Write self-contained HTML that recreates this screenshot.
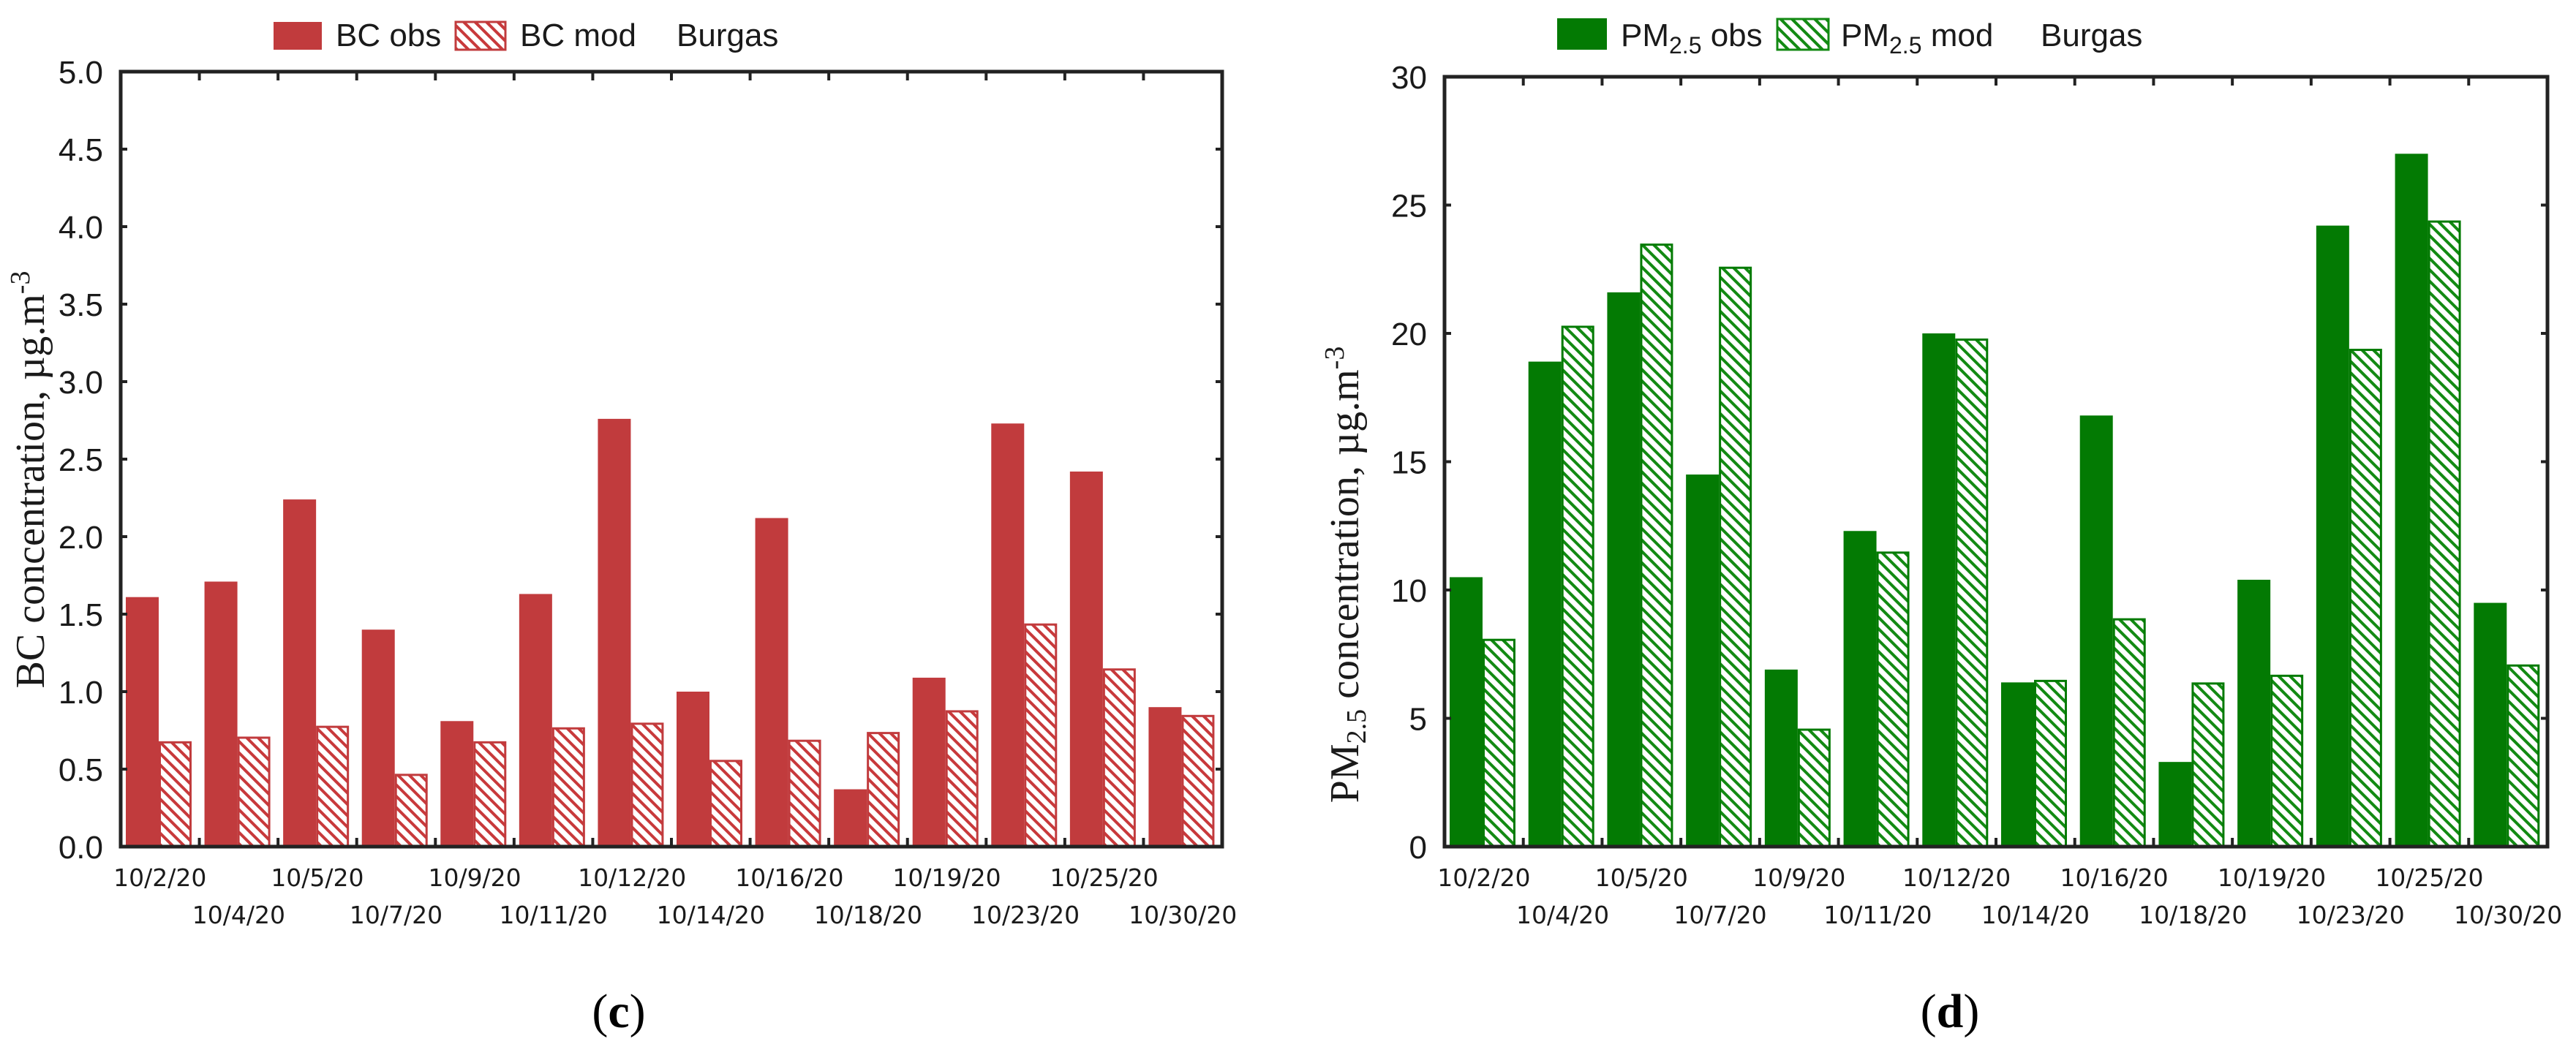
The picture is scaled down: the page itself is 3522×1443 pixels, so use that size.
<!DOCTYPE html>
<html><head><meta charset="utf-8"><style>
html,body{margin:0;padding:0;background:#fff;width:3522px;height:1443px;overflow:hidden}
svg{display:block}
.tick{font-family:"Liberation Sans",sans-serif;font-size:44px;fill:#1a1a1a}
.xl{font-family:"DejaVu Sans","Liberation Sans",sans-serif;font-size:33px;fill:#1a1a1a}
.leg{font-family:"Liberation Sans",sans-serif;font-size:44px;fill:#1a1a1a}
.ttl{font-family:"Liberation Serif",serif;font-size:56px;fill:#1a1a1a}
.cap{font-family:"Liberation Serif",serif;font-size:66px;fill:#000}
</style></head><body>
<svg id="s" width="3522" height="1443" viewBox="0 0 3522 1443" xmlns="http://www.w3.org/2000/svg">
<defs>
<pattern id="hr" patternUnits="userSpaceOnUse" width="11" height="11" patternTransform="rotate(45)"><rect width="11" height="11" fill="#fff"/><rect width="11" height="4" fill="#c8393b"/></pattern>
<pattern id="hg" patternUnits="userSpaceOnUse" width="11" height="11" patternTransform="rotate(45)"><rect width="11" height="11" fill="#fff"/><rect width="11" height="4" fill="#138a13"/></pattern>
</defs>
<g id="left"></g>
<g id="right"></g>
<text class="cap" x="846" y="1405" text-anchor="middle">(<tspan font-weight="bold">c</tspan>)</text>
<text class="cap" x="2666" y="1405" text-anchor="middle">(<tspan font-weight="bold">d</tspan>)</text>
</svg>
<script>
const dates = ["10/2/20","10/4/20","10/5/20","10/7/20","10/9/20","10/11/20","10/12/20","10/14/20","10/16/20","10/18/20","10/19/20","10/23/20","10/25/20","10/30/20"];
const bcObs = [1.61,1.71,2.24,1.40,0.81,1.63,2.76,1.00,2.12,0.37,1.09,2.73,2.42,0.90];
const bcMod = [0.68,0.71,0.78,0.47,0.68,0.77,0.80,0.56,0.69,0.74,0.88,1.44,1.15,0.85];
const pmObs = [10.5,18.9,21.6,14.5,6.9,12.3,20.0,6.4,16.8,3.3,10.4,24.2,27.0,9.5];
const pmMod = [8.1,20.3,23.5,22.6,4.6,11.5,19.8,6.5,8.9,6.4,6.7,19.4,24.4,7.1];
const bcTicks = ["0.0","0.5","1.0","1.5","2.0","2.5","3.0","3.5","4.0","4.5","5.0"];
const pmTicks = ["0","5","10","15","20","25","30"];
const NS="http://www.w3.org/2000/svg";
function mk(p,tag,a){const e=document.createElementNS(NS,tag);for(const k in a)e.setAttribute(k,a[k]);p.appendChild(e);return e;}
function chart(g,o){
  const L=o.L,R=o.R,T=o.T,B=o.B,n=dates.length,gw=(R-L)/n;
  const y=v=>B-(v/o.max)*(B-T);
  const x=i=>L+i*gw;
  for(let i=0;i<n;i++){
    const b1=mk(g,'rect',{x:x(i)+7,y:y(o.obs[i]),width:45,height:B-y(o.obs[i]),fill:o.col});
    
    
    const b2=mk(g,'rect',{x:x(i)+53.5,y:y(o.mod[i])+1.5,width:42,height:B-y(o.mod[i])-1.5,fill:o.pat,stroke:o.col,'stroke-width':3});
    
    
  }
  for(let i=1;i<n;i++){
    mk(g,'line',{x1:x(i),x2:x(i),y1:T,y2:T+12,stroke:'#222','stroke-width':4});
    mk(g,'line',{x1:x(i),x2:x(i),y1:B,y2:B-12,stroke:'#222','stroke-width':4});
  }
  o.ticks.forEach((t,k)=>{
    const v=parseFloat(t);
    mk(g,'line',{x1:L,x2:L+9,y1:y(v),y2:y(v),stroke:'#222','stroke-width':4});
    mk(g,'line',{x1:R,x2:R-9,y1:y(v),y2:y(v),stroke:'#222','stroke-width':4});
    const tx=mk(g,'text',{class:'tick',x:L-24,y:y(v)+16,'text-anchor':'end'});
    tx.textContent=t;
    
    
  });
  const box=mk(g,'rect',{x:L,y:T,width:R-L,height:B-T,fill:'none',stroke:'#222','stroke-width':5});
  
  
  dates.forEach((d,i)=>{
    const tx=mk(g,'text',{class:'xl',x:x(i)+gw/2,y:(i%2?1263:1212),'text-anchor':'middle'});
    tx.textContent=d;
    
    
  });
}
const gl=document.getElementById('left'),gr=document.getElementById('right');
chart(gl,{L:165,R:1671,T:98,B:1158,max:5,obs:bcObs,mod:bcMod,col:'#c13b3d',pat:'url(#hr)',ticks:bcTicks});
chart(gr,{L:1975,R:3483,T:105,B:1158,max:30,obs:pmObs,mod:pmMod,col:'#037a03',pat:'url(#hg)',ticks:pmTicks});
</script>
<script>
const s=document.getElementById('s');
s.insertAdjacentHTML('beforeend',`
<g>
<rect x="374" y="30" width="66" height="38" fill="#c13b3d"/>
<text class="leg" x="459" y="63">BC obs</text>
<rect x="623" y="30" width="68" height="38" fill="url(#hr)" stroke="#c13b3d" stroke-width="3"/>
<text class="leg" x="711" y="63">BC mod</text>
<text class="leg" x="925" y="63">Burgas</text>
</g>
<g>
<rect x="2129" y="25" width="68" height="43" fill="#037a03"/>
<text class="leg" x="2216" y="63">PM<tspan font-size="32" dy="10">2.5</tspan><tspan dy="-10"> obs</tspan></text>
<rect x="2430" y="26" width="70" height="42" fill="url(#hg)" stroke="#138a13" stroke-width="3"/>
<text class="leg" x="2517" y="63">PM<tspan font-size="32" dy="10">2.5</tspan><tspan dy="-10"> mod</tspan></text>
<text class="leg" x="2790" y="63">Burgas</text>
</g>
<text class="ttl" transform="translate(60,656) rotate(-90)" text-anchor="middle">BC concentration, µg.m<tspan font-size="38" dy="-20">-3</tspan></text>
<text class="ttl" transform="translate(1857,786) rotate(-90)" text-anchor="middle">PM<tspan font-size="38" dy="10">2.5</tspan><tspan dy="-10"> concentration, µg.m</tspan><tspan font-size="38" dy="-20">-3</tspan></text>
`);
</script>
</body></html>
